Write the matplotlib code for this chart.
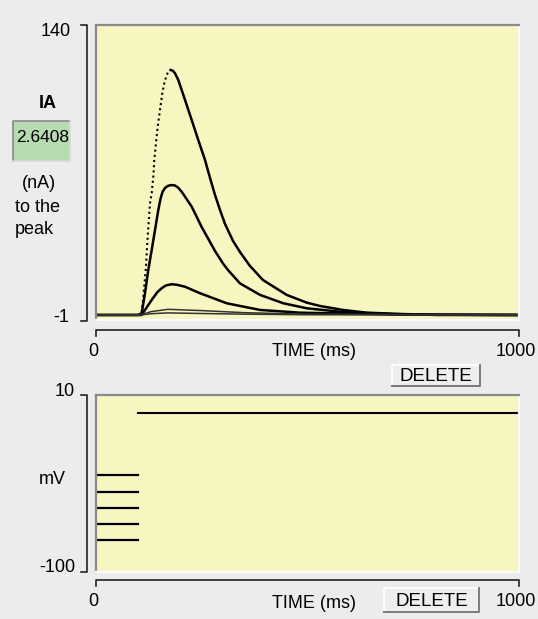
import matplotlib
matplotlib.use("Agg")
import matplotlib.pyplot as plt
from matplotlib.patches import Rectangle

plt.rcParams['font.family'] = ['Liberation Sans', 'DejaVu Sans']

# --- data ---
# IA current traces (nA) vs time (ms), largest first
# largest trace: rising phase (drawn dotted) and decay
t_top_rise = [0, 100, 108, 111.8, 117.5, 122.2, 127.7, 131.7, 135.5, 137.8, 141.8,
              145.9, 151.3, 156.7, 161.5, 167.1, 171.4, 176.6]
i_top_rise = [1.4, 1.4, 2.2, 10.1, 22.9, 38.8, 54.8, 59.6, 67.5, 75.5, 83.6,
              91.4, 99.4, 107.4, 112.2, 116.1, 117.8, 118.5]
t_top_decay = [176.6, 182.0, 186.8, 194.6, 210.4, 226.2, 241.8, 257.7, 269.5, 281.3,
               293.1, 305, 323.9, 340.4, 364.1, 394.8, 450.8, 498.1, 529.6, 584,
               640, 718.7, 805, 1000]
i_top_decay = [118.5, 118.1, 116.9, 113.7, 104.2, 94.6, 85.0, 75.5, 66.9, 58.8,
               51.6, 44.9, 36.8, 31.5, 24.8, 18.1, 11.0, 7.3, 5.7, 3.8,
               2.5, 1.9, 1.4, 1.4]

t_c2 = [0, 100, 108, 115.8, 123.6, 131.7, 139.5, 147.3, 152.5, 157.2, 163.1, 170.2,
        177.3, 186.8, 195, 202.6, 226.2, 249.9, 269.5, 281.3, 300.9, 312.8, 340.4,
        387.7, 442.8, 498.1, 584, 718.7, 1000]
i_c2 = [1.4, 1.4, 2.2, 11.8, 22.9, 32.5, 42.0, 51.6, 56.9, 60.2, 62.1, 63.1,
        63.5, 63.3, 62.1, 60.3, 53.2, 43.4, 36.3, 32.0, 25.8, 22.7, 16.5,
        11.0, 7.0, 4.6, 2.8, 1.6, 1.4]

t_c3 = [0, 100, 108, 115.8, 131.7, 145, 155.3, 165, 179, 192, 210.4, 245.9, 309,
        387.7, 482.3, 718.7, 1000]
i_c3 = [1.4, 1.4, 1.4, 3.8, 8.6, 12.3, 14.2, 15.5, 16.1, 15.8, 14.9, 11.8, 7.0,
        3.8, 2.5, 1.6, 1.4]

t_small = [0, 100, 110, 130, 170, 250, 350, 500, 1000]
i_c4 = [1.4, 1.4, 1.7, 3.0, 4.1, 3.5, 2.5, 1.8, 1.4]
i_c5 = [1.4, 1.4, 1.5, 2.0, 2.4, 2.1, 1.8, 1.5, 1.4]

# voltage protocol (mV)
hold_t = [0, 100]
hold_v = [-40, -50, -60, -70, -80]
step_t = [100, 1000]
step_v = -1

ia_value = "2.6408"

W, H = 538, 619
BG = '#ececec'
YEL = '#f7f5c0'
FS = 13

fig = plt.figure(figsize=(W / 100, H / 100), dpi=100, facecolor=BG)

# overlay in pixel coords for the GUI bits
gui = fig.add_axes([0, 0, 1, 1])
gui.set_xlim(0, W)
gui.set_ylim(H, 0)
gui.axis('off')
gui.set_facecolor(BG)


def plot_box(x0, y0, x1, y1):
    ax = fig.add_axes([x0 / W, 1 - y1 / H, (x1 - x0) / W, (y1 - y0) / H])
    ax.set_facecolor(YEL)
    ax.set_xticks([])
    ax.set_yticks([])
    for s in ['top', 'left']:
        ax.spines[s].set_color('#8a8a8a')
        ax.spines[s].set_linewidth(1.6)
    for s in ['right', 'bottom']:
        ax.spines[s].set_color('#fbfbfb')
        ax.spines[s].set_linewidth(1.6)
    return ax


def button(x0, y0, x1, y1, label):
    gui.add_patch(Rectangle((x0, y0), x1 - x0, y1 - y0, facecolor='#eeeeee', edgecolor='none'))
    gui.plot([x0, x0, x1], [y1, y0, y0], color='white', lw=1.2)
    gui.plot([x0, x1, x1], [y1, y1, y0], color='#7a7a7a', lw=1.4)
    gui.text((x0 + x1) / 2, (y0 + y1) / 2 + 1, label, ha='center', va='center', fontsize=13.5)


def ybracket(x, y0, y1):
    gui.plot([x - 6, x, x, x - 6], [y0, y0, y1, y1], color='#222222', lw=1.2)


def xbracket(y, x0, x1):
    gui.plot([x0, x0, x1, x1], [y + 6, y, y, y + 6], color='#222222', lw=1.2)


# ---------- top graph ----------
ax1 = plot_box(96, 25, 519, 320)
ax1.set_xlim(0, 1000)
ax1.set_ylim(-1, 140)
ax1.plot(t_top_rise, i_top_rise, color='black', lw=1.5, ls=(0, (1, 1.5)))
ax1.plot(t_top_decay, i_top_decay, color='black', lw=1.8, solid_joinstyle='round')
ax1.plot(t_c2, i_c2, color='black', lw=1.8, solid_joinstyle='round')
ax1.plot(t_c3, i_c3, color='black', lw=1.8, solid_joinstyle='round')
ax1.plot(t_small, i_c4, color='#333333', lw=1.1)
ax1.plot(t_small, i_c5, color='#333333', lw=1.1)

ybracket(87, 25, 321)
gui.text(71, 31, '140', ha='right', va='center', fontsize=FS)
gui.text(69, 318, '-1', ha='right', va='center', fontsize=FS)
xbracket(330, 96, 519)
gui.text(93, 352, '0', ha='center', va='center', fontsize=FS)
gui.text(314, 352, 'TIME (ms)', ha='center', va='center', fontsize=FS)
gui.text(516, 352, '1000', ha='center', va='center', fontsize=FS)
button(392, 365, 480, 386, 'DELETE')

# left panel
gui.text(48, 103, 'IA', ha='center', va='center', fontsize=FS, fontweight='bold')
gui.add_patch(Rectangle((13, 121), 57, 40, facecolor='#b6dbb0', edgecolor='none'))
gui.plot([13, 13, 70], [161, 121, 121], color='#8a8a8a', lw=1.2)
gui.plot([13, 70, 70], [161, 161, 121], color='#d8d8d8', lw=1.2)
clip = Rectangle((14, 122), 55, 38, transform=gui.transData)
t = gui.text(16, 138, ia_value, ha='left', va='center', fontsize=12.5)
t.set_clip_path(clip)
gui.text(22, 184, '(nA)', ha='left', va='center', fontsize=FS)
gui.text(15, 207, 'to the', ha='left', va='center', fontsize=FS)
gui.text(15, 230, 'peak', ha='left', va='center', fontsize=FS)

# ---------- bottom graph ----------
ax2 = plot_box(96, 395, 519, 572)
ax2.set_xlim(0, 1000)
ax2.set_ylim(-100, 10)
for v in hold_v:
    ax2.plot(hold_t, [v, v], color='black', lw=1.6)
ax2.plot(step_t, [step_v, step_v], color='black', lw=1.5)

ybracket(87, 395, 572)
gui.text(75, 391, '10', ha='right', va='center', fontsize=FS)
gui.text(75, 567, '-100', ha='right', va='center', fontsize=FS)
gui.text(52, 480, 'mV', ha='center', va='center', fontsize=FS)
xbracket(580, 96, 519)
gui.text(93, 602, '0', ha='center', va='center', fontsize=FS)
gui.text(314, 603, 'TIME (ms)', ha='center', va='center', fontsize=FS)
gui.text(516, 602, '1000', ha='center', va='center', fontsize=FS)
button(384, 588, 479, 612, 'DELETE')

fig.savefig('out.png', dpi=100, facecolor=BG)
